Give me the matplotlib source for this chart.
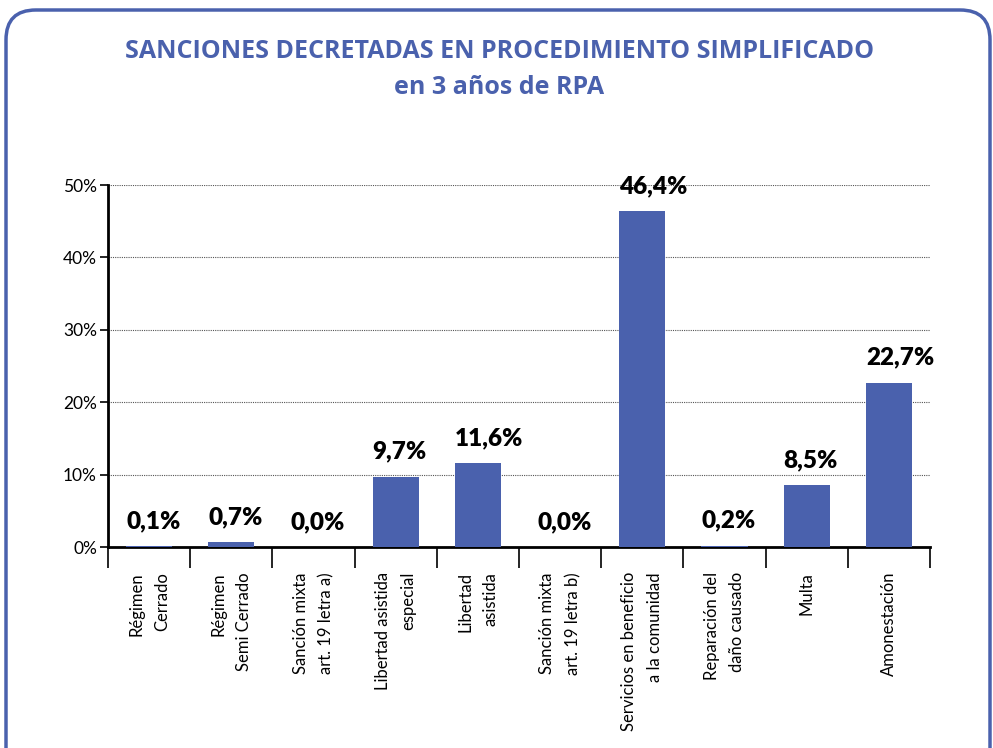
import numpy as np
import matplotlib
matplotlib.use("Agg")
import matplotlib.pyplot as plt
from matplotlib.patches import FancyBboxPatch
from matplotlib.ticker import FixedLocator

# Daten
categorias = [
    "Régimen\nCerrado",
    "Régimen\nSemi Cerrado",
    "Sanción mixta\nart. 19 letra a)",
    "Libertad asistida\nespecial",
    "Libertad\nasistida",
    "Sanción mixta\nart. 19 letra b)",
    "Servicios en beneficio\na la comunidad",
    "Reparación del\ndaño causado",
    "Multa",
    "Amonestación",
]
valores = [0.1, 0.7, 0.0, 9.7, 11.6, 0.0, 46.4, 0.2, 8.5, 22.7]
etiquetas = ["0,1%", "0,7%", "0,0%", "9,7%", "11,6%", "0,0%", "46,4%", "0,2%", "8,5%", "22,7%"]
y_ticks = [0, 10, 20, 30, 40, 50]

azul = "#4a61ad"

fig = plt.figure(figsize=(9.93, 7.48), dpi=100)

# Rahmen (rounded box, offen nach unten)
rahmen = FancyBboxPatch((6 / 993, -0.05), 984 / 993, 1.05 - 10 / 748,
                        boxstyle="round,pad=0,rounding_size=0.03",
                        transform=fig.transFigure, facecolor="none",
                        edgecolor=azul, linewidth=2.5, mutation_aspect=993 / 748)
fig.patches.append(rahmen)

fig.text(0.503, 1 - 51 / 748, "SANCIONES DECRETADAS EN PROCEDIMIENTO SIMPLIFICADO",
         ha="center", va="center", color=azul, fontsize=18, fontweight="bold",
         family="Open Sans")
fig.text(0.503, 1 - 87 / 748, "en 3 años de RPA",
         ha="center", va="center", color=azul, fontsize=18, fontweight="bold",
         family="Open Sans")

ax = fig.add_axes([108 / 993, 1 - 547 / 748, 822 / 993, 362 / 748])

x = np.arange(len(valores))
breite = 0.56
ax.bar(x, valores, width=breite, color=azul, zorder=5)

for xi, v, lab in zip(x, valores, etiquetas):
    ax.annotate(lab, (xi - breite / 2, v), xytext=(0, 13), textcoords="offset points",
                ha="left", va="baseline", fontsize=17.5, fontweight="heavy",
                family="Lato", color="black")

ax.set_xlim(-0.5, len(valores) - 0.5)
ax.set_ylim(0, 50)

ax.set_yticks(y_ticks)
ax.set_yticklabels([f"{t}%" for t in y_ticks], family="Lato", fontsize=12.5)
ax.yaxis.grid(True, linestyle=(0, (1, 1)), color="#555555", linewidth=0.8, zorder=0)
ax.tick_params(axis="y", length=6, width=1.2, pad=2)

ax.set_xticks(x)
ax.set_xticklabels(categorias, rotation=90, ha="center", va="top",
                   multialignment="right", family="Lato", fontsize=12)
for t in ax.get_xticklabels():
    t.set_linespacing(1.75)
ax.xaxis.set_minor_locator(FixedLocator(np.arange(-0.5, len(valores), 1.0)))
ax.tick_params(axis="x", which="major", length=0, pad=18)
ax.tick_params(axis="x", which="minor", length=15, width=1.2, direction="out")

for s in ["top", "right"]:
    ax.spines[s].set_visible(False)
ax.spines["left"].set_linewidth(2)
ax.spines["bottom"].set_linewidth(2)
ax.spines["bottom"].set_zorder(4)

fig.savefig("out.png", dpi=100)
